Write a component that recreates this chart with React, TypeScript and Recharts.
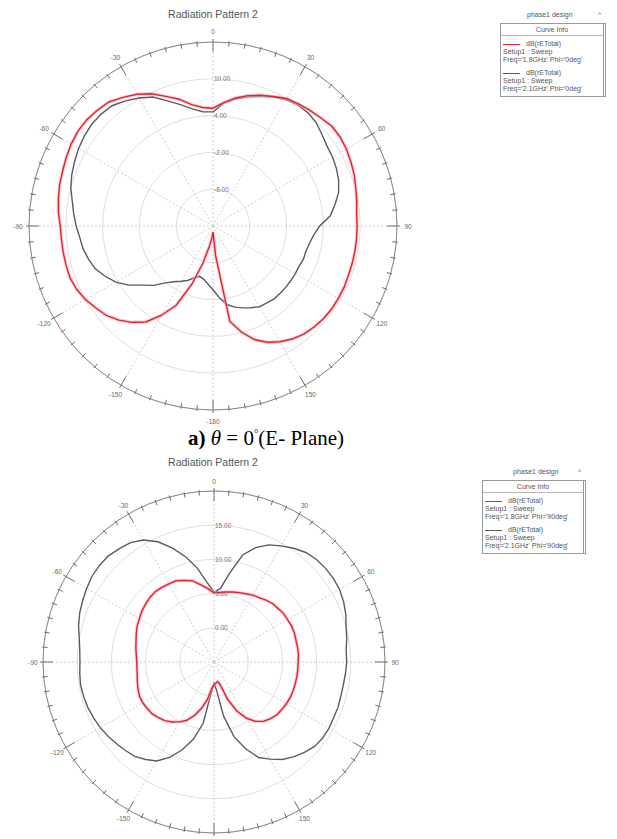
import { RadarChart, Radar, PolarGrid, PolarAngleAxis, PolarRadiusAxis } from "recharts";

// theta in degrees, clockwise from the top (HFSS labelling)
const thetaDeg = [
  0, 5, 10, 15, 20, 25, 30, 35, 40, 45, 50, 55, 60, 65, 70, 75, 80, 85,
  90, 95, 100, 105, 110, 115, 120, 125, 130, 135, 140, 145, 150, 155, 160, 165, 170, 175,
  -180, -175, -170, -165, -160, -155, -150, -145, -140, -135, -130, -125, -120, -115, -110, -105, -100, -95,
  -90, -85, -80, -75, -70, -65, -60, -55, -50, -45, -40, -35, -30, -25, -20, -15, -10, -5,
];

// a) E-plane, dB(rETotal)
const eRed = [
  5.2, 6.2, 7.2, 8.0, 8.7, 9.3, 10.0, 10.3, 10.6, 10.9, 11.3, 11.3, 11.1, 10.8, 10.5, 10.1, 9.8, 9.5,
  9.5, 9.5, 9.5, 9.5, 9.5, 9.6, 9.6, 9.6, 9.5, 9.3, 9.0, 8.5, 7.8, 6.9, 5.7, 3.9, 1.8, -9.1,
  -13.0, -12.0, -10.7, -7.8, -3.9, 0.3, 2.8, 5.1, 6.5, 7.7, 8.7, 9.3, 10.0, 10.5, 10.8, 10.8, 10.8, 10.8,
  10.9, 11.3, 11.6, 11.9, 12.1, 12.4, 12.7, 12.9, 12.9, 12.7, 12.4, 11.6, 10.8, 9.8, 8.5, 7.4, 6.1, 5.4,
];
const eGrey = [
  4.6, 6.1, 7.0, 7.8, 8.5, 9.2, 9.8, 10.1, 10.1, 9.8, 9.2, 8.7, 8.5, 8.2, 7.8, 7.2, 6.2, 5.2,
  3.4, 2.5, 2.0, 1.7, 1.7, 1.5, 1.5, 1.5, 1.5, 1.5, 1.5, 1.3, 1.2, 0.7, 0.2, -0.3, -1.0, -2.3,
  -3.6, -4.5, -5.2, -5.5, -5.0, -4.2, -3.6, -2.9, -1.9, -0.3, 1.0, 2.8, 4.3, 5.4, 6.4, 7.0, 7.5, 7.8,
  8.3, 8.8, 9.3, 10.0, 10.5, 10.9, 11.3, 11.6, 11.8, 11.8, 11.6, 10.9, 10.1, 9.2, 7.7, 6.5, 5.4, 4.7,
];

// b) second plane
const hRed = [
  5.1, 5.2, 5.4, 5.6, 5.8, 6.0, 6.3, 6.5, 6.8, 7.1, 7.2, 7.4, 7.4, 7.5, 7.5, 7.4, 7.4, 7.4,
  7.3, 7.3, 7.3, 7.3, 7.3, 7.3, 7.2, 7.1, 7.0, 6.7, 6.3, 5.6, 4.5, 2.9, 0.8, -1.6, -2.1, -1.9,
  -1.6, -1.1, 0.6, 2.0, 3.3, 4.4, 5.1, 5.7, 6.2, 6.5, 6.8, 6.9, 7.0, 7.0, 6.8, 6.6, 6.4, 6.3,
  6.3, 6.4, 6.6, 6.8, 7.1, 7.4, 7.6, 7.9, 8.1, 8.3, 8.4, 8.3, 8.2, 8.1, 7.7, 7.3, 6.5, 5.8,
];
const hGrey = [
  5.2, 5.8, 8.2, 11.2, 12.8, 13.9, 14.6, 15.3, 15.9, 16.2, 16.3, 16.3, 16.2, 15.9, 15.5, 15.0, 14.7, 14.4,
  14.4, 14.3, 14.2, 14.2, 14.3, 14.3, 14.4, 14.4, 14.2, 13.7, 13.1, 12.4, 11.4, 10.4, 8.5, 6.3, 3.0, -0.9,
  -1.9, -0.6, 4.1, 6.7, 8.7, 10.4, 11.7, 12.4, 13.0, 13.3, 13.6, 13.9, 14.2, 14.4, 14.6, 14.7, 14.8, 14.7,
  14.6, 14.7, 15.0, 15.5, 15.9, 16.2, 16.5, 16.8, 16.9, 16.9, 16.6, 16.3, 15.6, 14.4, 12.7, 10.9, 8.9, 6.7,
];

const eTicks = [-8, -2, 4, 10, 16];
const hTicks = [0, 5, 10, 15, 20];

const legendTitle = "phase1 design";
const legendHeader = "Curve Info";
const eCurves = [
  ["dB(rETotal)", "Setup1 : Sweep", "Freq='1.8GHz' Phi='0deg'"],
  ["dB(rETotal)", "Setup1 : Sweep", "Freq='2.1GHz' Phi='0deg'"],
];
const hCurves = [
  ["dB(rETotal)", "Setup1 : Sweep", "Freq='1.8GHz' Phi='90deg'"],
  ["dB(rETotal)", "Setup1 : Sweep", "Freq='2.1GHz' Phi='90deg'"],
];

const RED = "#e3232d";
const GREY = "#5e5866";
const SANS = "'Liberation Sans', Arial, sans-serif";
const spokes = [0, 30, 60, 90, 120, 150, 180, 210, 240, 270, 300, 330];

function angleTick(cx: number, cy: number, r: number, labelR: number) {
  return (props: any) => {
    const { payload } = props;
    const a = (-payload.coordinate * Math.PI) / 180;
    const ux = Math.cos(a);
    const uy = Math.sin(a);
    const v = Number(payload.value);
    const major = v % 30 === 0;
    const r1 = major ? r - 10 : r - 4;
    const r2 = major ? r + 3 : r + 1.5;
    return (
      <g>
        <path d={`M${cx + ux * r1},${cy + uy * r1}L${cx + ux * r2},${cy + uy * r2}`} stroke="#6e6e6e" strokeWidth={1} fill="none" />
        {major && (
          <text x={cx + ux * labelR} y={cy + uy * labelR} textAnchor="middle" dominantBaseline="central" fontSize={6.5} fill="#666" fontFamily={SANS}>
            {v}
          </text>
        )}
      </g>
    );
  };
}

function radiusTick(max: number) {
  return (props: any) => {
    const { x, y, payload } = props;
    if (payload.value === max) return <g />;
    return (
      <text x={x + 1} y={y} textAnchor="start" dominantBaseline="central" fontSize={6.5} fill="#777" fontFamily={SANS}>
        {Number(payload.value).toFixed(2)}
      </text>
    );
  };
}

function Polar(props: {
  red: number[]; grey: number[]; ticks: number[];
  left: number; top: number; w: number; h: number; cx: number; cy: number; r: number; labelR: number;
}) {
  const { red, grey, ticks, left, top, w, h, cx, cy, r, labelR } = props;
  const data = thetaDeg.map((t, i) => ({ theta: t, red: red[i], grey: grey[i] }));
  const min = 2 * ticks[0] - ticks[1];
  const max = ticks[ticks.length - 1];
  return (
    <div style={{ position: "absolute", left, top }}>
      <RadarChart width={w} height={h} data={data} cx={cx} cy={cy} outerRadius={r} startAngle={90} endAngle={-270} margin={{ top: 0, right: 0, bottom: 0, left: 0 }}>
        <PolarGrid gridType="circle" radialLines={false} stroke="#dedede" />
        <PolarGrid gridType="circle" polarRadius={[]} polarAngles={spokes} stroke="#d0d0d0" strokeDasharray="2 2" />
        <PolarAngleAxis dataKey="theta" axisLineType="circle" stroke="#888" tickLine={false} tick={angleTick(cx, cy, r, labelR)} />
        <PolarRadiusAxis angle={90} type="number" domain={[min, max]} ticks={ticks} axisLine={false} tickLine={false} tick={radiusTick(max)} />
        <Radar dataKey="grey" stroke={GREY} strokeWidth={1.4} fill="none" fillOpacity={0} dot={false} isAnimationActive={false} />
        <Radar dataKey="red" stroke="#f4b3b6" strokeWidth={3.4} strokeOpacity={0.6} fill="none" fillOpacity={0} dot={false} isAnimationActive={false} />
        <Radar dataKey="red" stroke={RED} strokeWidth={1.4} fill="none" fillOpacity={0} dot={false} isAnimationActive={false} />
      </RadarChart>
    </div>
  );
}

function CurveLegend(props: { left: number; top: number; w: number; curves: string[][]; arrowColor: string; titleX: number }) {
  const { left, top, w, curves, arrowColor, titleX } = props;
  const txt = { fontSize: 7, color: "#555", fontFamily: SANS, lineHeight: "8px", whiteSpace: "nowrap" as const };
  return (
    <>
      <div style={{ ...txt, position: "absolute", left: titleX, top: top - 12 }}>{legendTitle}</div>
      <div style={{ ...txt, position: "absolute", left: left + w - 4, top: top - 12, color: arrowColor }}>^</div>
      <div style={{ position: "absolute", left, top, width: w, border: "1px solid #9a9a9a", borderRight: "3px double #9a9a9a", background: "#fff", paddingBottom: 3 }}>
        <div style={{ ...txt, textAlign: "center", borderBottom: "1px solid #b5b5b5", padding: "2px 0 1px" }}>{legendHeader}</div>
        {curves.map((lines, k) => (
          <div key={k} style={{ marginTop: k === 0 ? 4 : 5, paddingLeft: 2 }}>
            {lines.map((s, j) => (
              <div key={j} style={{ ...txt, display: "flex", alignItems: "center" }}>
                {j === 0 && <span style={{ display: "inline-block", width: 17, height: 0, borderTop: `1.5px solid ${k === 0 ? RED : GREY}`, marginRight: 6 }} />}
                <span>{s}</span>
              </div>
            ))}
          </div>
        ))}
      </div>
    </>
  );
}

export default function App() {
  const title = { position: "absolute" as const, fontFamily: SANS, fontSize: 10.5, color: "#555", width: 200, textAlign: "center" as const };
  return (
    <div style={{ position: "absolute", left: 0, top: 0, width: 617, height: 839, background: "#fff", overflow: "hidden" }}>
      <div style={{ ...title, left: 113, top: 8 }}>Radiation Pattern 2</div>
      <Polar red={eRed} grey={eGrey} ticks={eTicks} left={0} top={0} w={430} h={428} cx={213} cy={226} r={184} labelR={195} />
      <CurveLegend left={500} top={23} w={102} curves={eCurves} arrowColor="#666" titleX={527} />

      <div style={{ position: "absolute", left: 188, top: 427, fontFamily: "'Liberation Serif', 'Times New Roman', serif", fontSize: 21, lineHeight: "22px", whiteSpace: "nowrap", color: "#000" }}>
        <b>a)</b> <i>θ</i> = 0<span style={{ fontSize: 11, verticalAlign: "8px", lineHeight: "10px" }}>°</span>(E- Plane)
      </div>

      <div style={{ ...title, left: 113, top: 456 }}>Radiation Pattern 2</div>
      <Polar red={hRed} grey={hGrey} ticks={hTicks} left={0} top={440} w={430} h={399} cx={214} cy={222} r={171} labelR={181} />
      <CurveLegend left={482} top={480} w={100} curves={hCurves} arrowColor={RED} titleX={513} />
    </div>
  );
}
